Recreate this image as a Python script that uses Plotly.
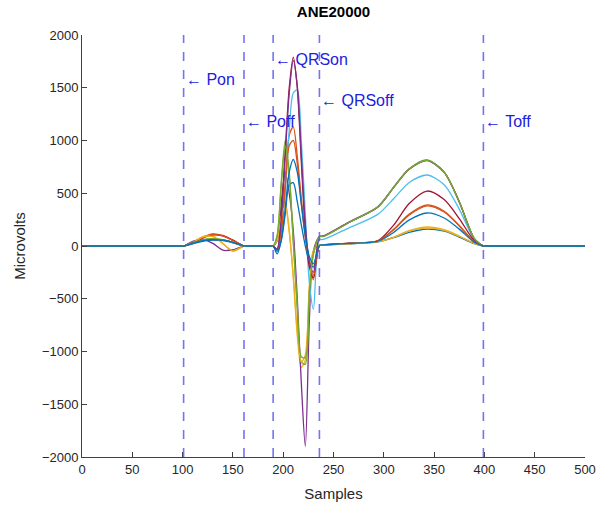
import plotly.graph_objects as go

# Sample positions of read-off knots
samples = [0, 99, 101, 110, 120, 130, 140, 150, 161, 163,
           188, 190, 194, 198, 202, 206, 210, 214, 218, 222, 226, 230, 236,
           240, 265, 294, 310, 325, 343, 360, 375, 390, 399, 401, 500]

# Lead values (microvolts) at the knots above
lead_orange1 = [0, 0, 0, 35, 85, 115, 100, 55, 0, 0,
                0, 0, -40, 150, 600, 1050, 1130, 850, 450, 100, -150, -320, 5,
                10, 25, 48, 160, 300, 389, 330, 195, 40, 0, 0, 0]
lead_yellow1 = [0, 0, 0, 35, 90, 95, 25, -50, 0, 0,
                0, 0, 60, 300, 420, 150, -300, -850, -1150, -1080, -400, -50, 10,
                10, 22, 42, 85, 145, 180, 155, 95, 25, 0, 0, 0]
lead_purple1 = [0, 0, 0, 45, 60, 25, -40, -35, 0, 0,
                0, 0, 50, 400, 700, 500, 150, -500, -1300, -1900, -700, -50, 90,
                95, 225, 372, 560, 730, 813, 700, 420, 70, 0, 0, 0]
lead_green1 = [0, 0, 0, 30, 60, 70, 60, 35, 0, 0,
               0, 0, 100, 600, 1000, 700, 50, -600, -1100, -1120, -450, -80, 90,
               92, 222, 370, 560, 730, 815, 700, 420, 70, 0, 0, 0]
lead_cyan = [0, 0, 0, 25, 50, 60, 55, 35, 0, 0,
             0, 0, -40, 100, 500, 1100, 1450, 1480, 1000, 300, -350, -600, 60,
             62, 170, 300, 450, 600, 673, 580, 350, 60, 0, 0, 0]
lead_red = [0, 0, 0, 30, 75, 105, 95, 55, 0, 0,
            0, 0, -30, 300, 900, 1500, 1790, 1500, 800, 150, -200, -300, 5,
            10, 28, 50, 200, 400, 521, 440, 260, 50, 0, 0, 0]
lead_blue2 = [0, 0, 0, 20, 45, 55, 50, 30, 0, 0,
              0, 0, -50, 50, 300, 580, 600, 420, 200, 0, -150, -200, 5,
              8, 20, 40, 80, 130, 161, 140, 85, 22, 0, 0, 0]
lead_orange2 = [0, 0, 0, 33, 80, 110, 95, 52, 0, 0,
                0, 0, -35, 130, 550, 950, 1000, 780, 400, 80, -140, -280, 5,
                10, 25, 47, 155, 292, 380, 322, 190, 38, 0, 0, 0]
lead_yellow2 = [0, 0, 0, 33, 85, 90, 22, -45, 0, 0,
                0, 0, 55, 270, 380, 130, -280, -800, -1100, -1030, -380, -45, 10,
                10, 21, 41, 82, 140, 170, 148, 90, 23, 0, 0, 0]
lead_purple2 = [0, 0, 0, 30, 55, 62, 56, 35, 0, 0,
                0, 0, -30, 250, 850, 1450, 1760, 1520, 850, 200, -150, -250, 88,
                92, 222, 368, 556, 726, 810, 698, 418, 68, 0, 0, 0]
lead_green2 = [0, 0, 0, 28, 58, 68, 58, 33, 0, 0,
               0, 0, 95, 570, 950, 660, 40, -570, -1050, -1060, -430, -75, 88,
               90, 220, 369, 558, 728, 812, 699, 419, 69, 0, 0, 0]
lead_blue1 = [0, 0, 0, 25, 50, 60, 55, 35, 0, 0,
              0, 0, -75, 50, 350, 700, 820, 700, 400, 100, -100, -170, 5,
              10, 25, 45, 130, 245, 313, 265, 160, 35, 0, 0, 0]

leads = [lead_orange1, lead_yellow1, lead_purple1, lead_green1, lead_cyan,
         lead_red, lead_blue2, lead_orange2, lead_yellow2, lead_purple2,
         lead_green2, lead_blue1]
lead_colors = ["#D95319", "#EDB120", "#7E2F8E", "#77AC30", "#4DBEEE",
               "#A2142F", "#0072BD", "#D95319", "#EDB120", "#7E2F8E",
               "#77AC30", "#0072BD"]

# Fiducial markers
marker_x = [101, 161, 190, 236, 399]
marker_y = [1580, 1180, 1770, 1375, 1180]
marker_labels = ["Pon", "Poff", "QRSon", "QRSoff", "Toff"]

x_ticks = [0, 50, 100, 150, 200, 250, 300, 350, 400, 450, 500]
y_ticks = [-2000, -1500, -1000, -500, 0, 500, 1000, 1500, 2000]

fig = go.Figure()
for vals, col in zip(leads, lead_colors):
    fig.add_trace(go.Scatter(x=samples, y=vals, mode="lines",
                             line=dict(color=col, width=1.3, shape="spline", smoothing=0.8),
                             showlegend=False, hoverinfo="skip"))

for mx in marker_x:
    fig.add_shape(type="line", x0=mx, x1=mx, y0=-2000, y1=2000, xref="x", yref="y",
                  line=dict(color="rgba(80,80,240,0.8)", width=1.6, dash="dash"))

for mx, my, lab in zip(marker_x, marker_y, marker_labels):
    fig.add_annotation(x=mx, y=my, text="\u2190 " + lab, showarrow=False,
                       xanchor="left", yanchor="middle", xshift=0,
                       font=dict(color="#2020e0", size=16, family="Liberation Sans, Arial"))

fig.update_layout(
    width=597, height=505,
    margin=dict(l=82, r=12, t=35, b=48, autoexpand=False),
    paper_bgcolor="white", plot_bgcolor="white",
    font=dict(family="Liberation Sans, Arial", color="#262626", size=13),
    title=dict(text="<b>ANE20000</b>", x=0.5, xanchor="center", xref="paper",
               y=1 - 12 / 505, yanchor="middle",
               font=dict(size=15, color="black")),
)
fig.update_xaxes(range=[0, 500], tickvals=x_ticks, ticks="inside", ticklen=5,
                 tickcolor="#404040", showline=True, linecolor="#404040", linewidth=1,
                 showgrid=False, zeroline=False, mirror=False, automargin=False,
                 ticklabeloverflow="allow",
                 title=dict(text="Samples", standoff=12, font=dict(size=15)),
                 tickfont=dict(size=13, color="#262626"))
fig.update_yaxes(range=[-2000, 2000], tickvals=y_ticks, ticks="inside", ticklen=5,
                 tickcolor="#404040", showline=True, linecolor="#404040", linewidth=1,
                 showgrid=False, zeroline=False, mirror=False, automargin=False,
                 title=dict(text="Microvolts", standoff=12, font=dict(size=15)),
                 tickfont=dict(size=13, color="#262626"))

# remove the browser's default 8px body margin so the figure fills the window
fig.write_html("out.html",
               config={"displayModeBar": False},
               post_script="document.body.style.margin='0px';document.body.style.overflow='hidden';")
